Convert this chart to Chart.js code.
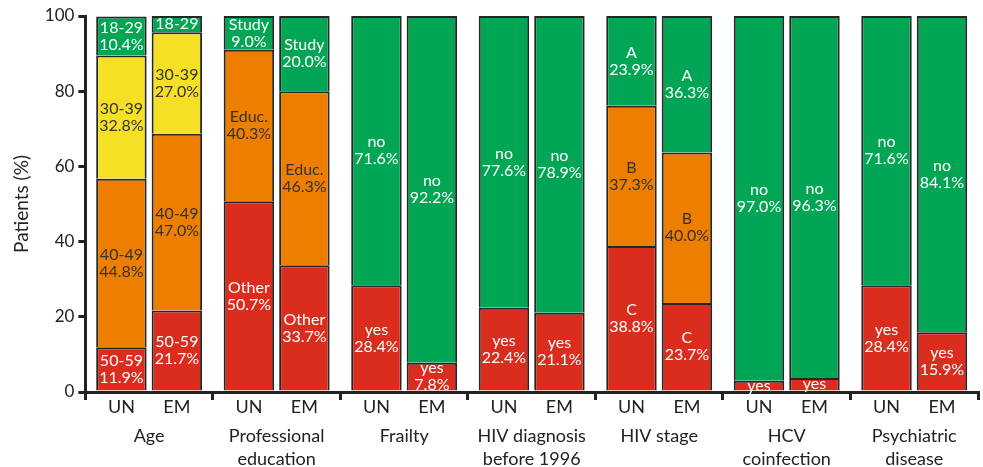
<!DOCTYPE html>
<html>
<head>
<meta charset="utf-8">
<script src="https://cdn.jsdelivr.net/npm/chart.js@4.4.1/dist/chart.umd.min.js"></script>
<style>
  html, body { margin: 0; padding: 0; background: #fff; }
  #wrap { width: 983px; height: 467px; }
</style>
</head>
<body>
<div id="wrap"><canvas id="chart"></canvas></div>
<script>
// groups on the x axis
const groups = [['Age'], ['Professional', 'education'], ['Frailty'], ['HIV diagnosis', 'before 1996'],
  ['HIV stage'], ['HCV', 'coinfection'], ['Psychiatric', 'disease']];
const arms = ['UN', 'EM'];
const yTicks = [0, 20, 40, 60, 80, 100];

// segment names, bottom -> top
const redNames    = ['50-59', 'Other', 'yes', 'yes', 'C', 'yes', 'yes'];
const orangeNames = ['40-49', 'Educ.', null, null, 'B', null, null];
const yellowNames = ['30-39', null, null, null, null, null, null];
const greenNames  = ['18-29', 'Study', 'no', 'no', 'A', 'no', 'no'];

// UN (%)
const unRed    = [11.9, 50.7, 28.4, 22.4, 38.8, 3.0, 28.4];
const unOrange = [44.8, 40.3, null, null, 37.3, null, null];
const unYellow = [32.8, null, null, null, null, null, null];
const unGreen  = [10.4, 9.0, 71.6, 77.6, 23.9, 97.0, 71.6];

// EM (%)
const emRed    = [21.7, 33.7, 7.8, 21.1, 23.7, 3.7, 15.9];
const emOrange = [47.0, 46.3, null, null, 40.0, null, null];
const emYellow = [27.0, null, null, null, null, null, null];
const emGreen  = [4.3, 20.0, 92.2, 78.9, 36.3, 96.3, 84.1];

const RED = 'rgb(218,45,30)', ORANGE = 'rgb(238,126,0)', YELLOW = 'rgb(246,224,38)', GREEN = 'rgb(0,166,84)';
const INK = '#222';
const FONT = 'Lato, "Noto Sans", sans-serif';

function seg(data, stack, color, names, textColor) {
  return {
    data: data, stack: stack, names: names, textColor: textColor,
    backgroundColor: color, borderColor: '#262626',
    borderWidth: { left: 2, right: 2, top: 2, bottom: 0 }, borderSkipped: false,
    categoryPercentage: 0.87, barPercentage: 0.91
  };
}

const datasets = [
  seg(unRed, 'UN', RED, redNames, '#fff'),
  seg(unOrange, 'UN', ORANGE, orangeNames, '#333'),
  seg(unYellow, 'UN', YELLOW, yellowNames, '#333'),
  seg(unGreen, 'UN', GREEN, greenNames, '#fff'),
  seg(emRed, 'EM', RED, redNames, '#fff'),
  seg(emOrange, 'EM', ORANGE, orangeNames, '#333'),
  seg(emYellow, 'EM', YELLOW, yellowNames, '#333'),
  seg(emGreen, 'EM', GREEN, greenNames, '#fff')
];

// labels inside segments + UN/EM under each bar
const barText = {
  id: 'barText',
  afterDatasetsDraw(chart) {
    const ctx = chart.ctx;
    ctx.save();
    ctx.textAlign = 'center';
    ctx.textBaseline = 'middle';
    ctx.font = '16px ' + FONT;
    chart.data.datasets.forEach((ds, i) => {
      const meta = chart.getDatasetMeta(i);
      meta.data.forEach((el, j) => {
        const v = ds.data[j];
        if (v == null || !ds.names[j]) return;
        const lines = v < 5 ? [ds.names[j]] : [ds.names[j], v.toFixed(1) + '%'];
        const cy = (el.y + el.base) / 2;
        ctx.fillStyle = ds.textColor;
        lines.forEach((t, k) => {
          ctx.fillText(t, el.x, cy + (k - (lines.length - 1) / 2) * 17);
        });
      });
    });
    // arm names
    ctx.font = '18px ' + FONT;
    ctx.fillStyle = INK;
    [0, 4].forEach((di, a) => {
      chart.getDatasetMeta(di).data.forEach(el => {
        ctx.fillText(arms[a], el.x, chart.chartArea.bottom + 15);
      });
    });
    ctx.restore();
  }
};

new Chart(document.getElementById('chart'), {
  type: 'bar',
  data: { labels: groups, datasets: datasets },
  options: {
    responsive: true,
    maintainAspectRatio: false,
    animation: false,
    layout: { padding: { top: 16, right: 5, left: 0, bottom: -28 } },
    plugins: { legend: { display: false }, tooltip: { enabled: false } },
    scales: {
      x: {
        stacked: true,
        grid: { drawOnChartArea: false, tickLength: 8, lineWidth: 3, color: INK, offset: true },
        border: { color: INK, width: 3 },
        ticks: {
          autoSkip: false, maxRotation: 0, padding: 25, color: INK,
          font: { family: FONT, size: 18, lineHeight: 1.25 }
        }
      },
      y: {
        stacked: true,
        min: 0, max: 100,
        afterBuildTicks: axis => { axis.ticks = yTicks.map(v => ({ value: v })); },
        grid: { drawOnChartArea: false, tickLength: 7, lineWidth: 3, color: INK },
        border: { color: INK, width: 3 },
        ticks: { padding: 4, color: INK, font: { family: FONT, size: 17 } },
        title: {
          display: true, text: 'Patients (%)', color: INK,
          font: { family: FONT, size: 19 }, padding: { top: 10, bottom: 8 }
        }
      }
    }
  },
  plugins: [barText]
});
</script>
</body>
</html>
